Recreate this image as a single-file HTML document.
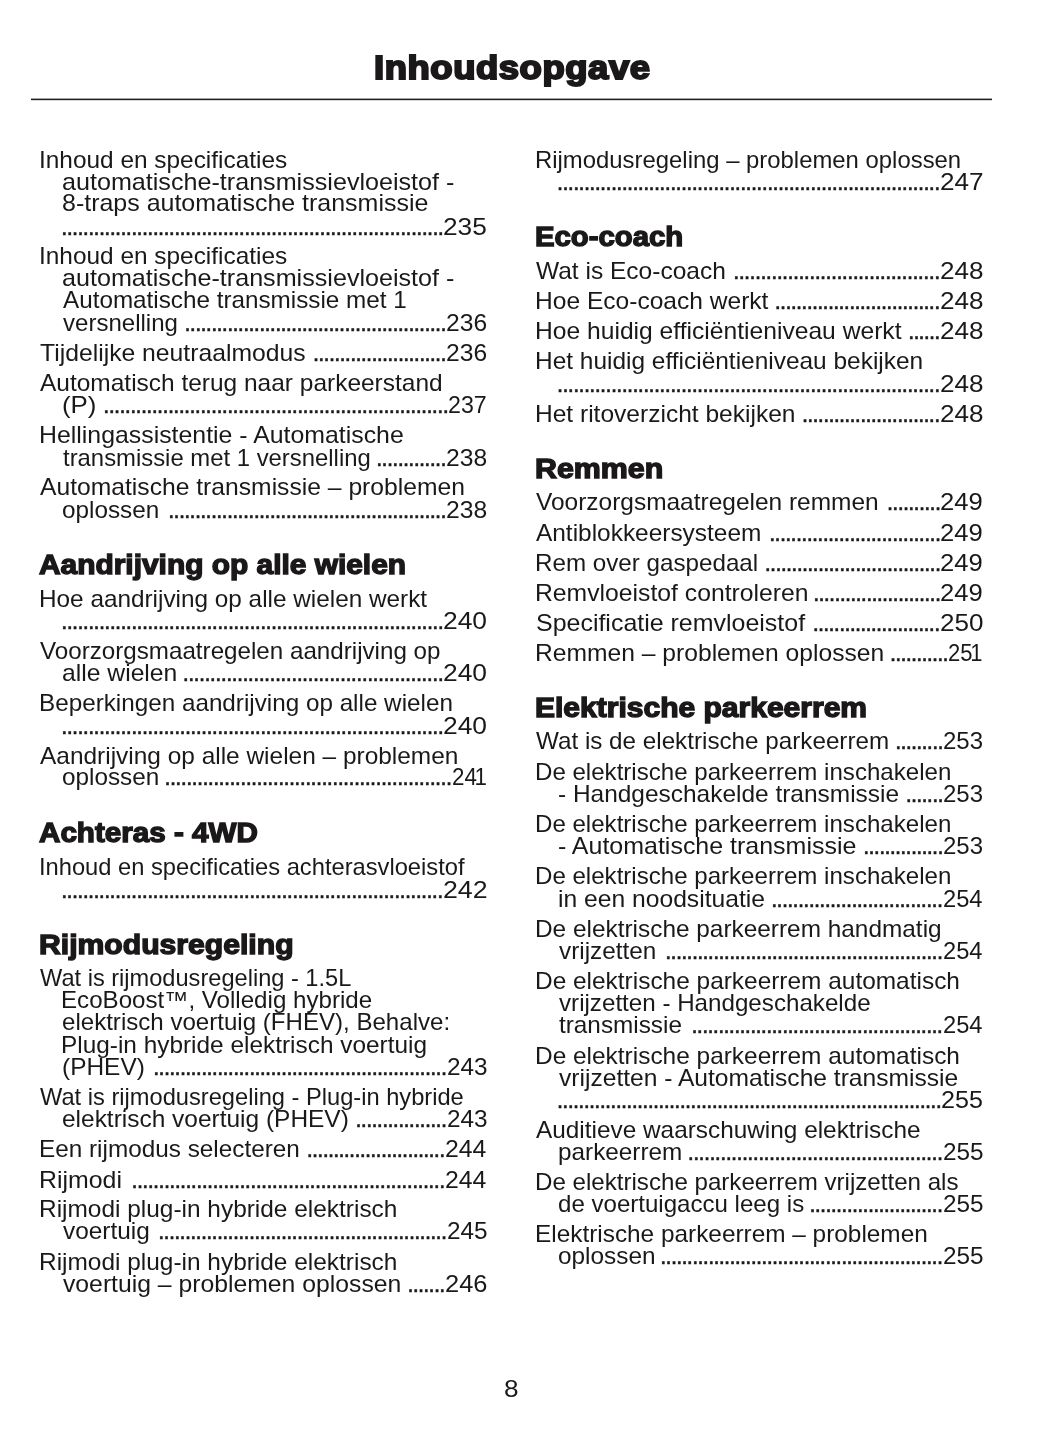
<!DOCTYPE html>
<html lang="nl"><head><meta charset="utf-8"><title>Inhoudsopgave</title>
<style>
html,body{margin:0;padding:0;background:#fff;}
body{width:1055px;height:1448px;position:relative;overflow:hidden;color:#1b1819;font-family:"Liberation Sans",sans-serif;}
.p{position:absolute;white-space:pre;transform-origin:0 0;line-height:1;display:block;margin:0;padding:0;}
.t,.n{font-size:23.6px;font-weight:400;}
.d{font-size:23.6px;font-weight:400;-webkit-text-stroke:0.45px #1b1819;}
.h{font-size:27.6px;font-weight:700;-webkit-text-stroke:1.4px #1b1819;letter-spacing:0px;}
.ttl{font-size:32.4px;font-weight:700;-webkit-text-stroke:2.0px #1b1819;letter-spacing:0.5px;}
.o{margin-left:-2.4px;}
.rule{position:absolute;left:31px;top:98px;width:961px;height:3px;background:linear-gradient(to bottom,#a9a8a8 0,#a9a8a8 1px,#1f1c1d 1px,#1f1c1d 2px,#d9d8d8 2px,#d9d8d8 3px);}
</style></head><body>
<div class="rule"></div>
<h1 class="p ttl" style="left:373.91px;top:52px;transform:scaleX(1.1250)">Inhoudsopgave</h1>
<span class="p t" style="left:38.85px;top:149px;transform:scaleX(1.0342)">Inhoud en specificaties</span>
<span class="p t" style="left:61.85px;top:171px;transform:scaleX(1.0650)">automatische-transmissievloeistof -</span>
<span class="p t" style="left:61.86px;top:192px;transform:scaleX(1.0583)">8-traps automatische transmissie</span>
<span class="p d" style="left:61.00px;top:216px;letter-spacing:-1.175px">.......................................................................</span>
<span class="p n" style="left:443.42px;top:216px;transform:scaleX(1.1135)">235</span>
<span class="p t" style="left:38.85px;top:245px;transform:scaleX(1.0342)">Inhoud en specificaties</span>
<span class="p t" style="left:61.85px;top:267px;transform:scaleX(1.0650)">automatische-transmissievloeistof -</span>
<span class="p t" style="left:62.60px;top:289px;transform:scaleX(1.0279)">Automatische transmissie met 1</span>
<span class="p t" style="left:62.60px;top:312px;transform:scaleX(1.0185)">versnelling</span>
<span class="p d" style="left:184.25px;top:312px;letter-spacing:-1.224px">.................................................</span>
<span class="p n" style="left:446.02px;top:312px;transform:scaleX(1.0446)">236</span>
<span class="p t" style="left:40.30px;top:342px;transform:scaleX(1.0478)">Tijdelijke neutraalmodus</span>
<span class="p d" style="left:312.75px;top:342px;letter-spacing:-1.247px">.........................</span>
<span class="p n" style="left:446.02px;top:342px;transform:scaleX(1.0446)">236</span>
<span class="p t" style="left:40.30px;top:372px;transform:scaleX(1.0371)">Automatisch terug naar parkeerstand</span>
<span class="p t" style="left:61.83px;top:394px;transform:scaleX(1.0966)">(P)</span>
<span class="p d" style="left:103.00px;top:394px;letter-spacing:-1.168px">................................................................</span>
<span class="p n" style="left:448.31px;top:394px;transform:scaleX(0.9838)">237</span>
<span class="p t" style="left:38.83px;top:424px;transform:scaleX(1.0535)">Hellingassistentie - Automatische</span>
<span class="p t" style="left:62.60px;top:447px;transform:scaleX(1.0117)">transmissie met 1 versnelling</span>
<span class="p d" style="left:376.00px;top:447px;letter-spacing:-1.209px">.............</span>
<span class="p n" style="left:446.02px;top:447px;transform:scaleX(1.0446)">238</span>
<span class="p t" style="left:40.30px;top:476px;transform:scaleX(1.0453)">Automatische transmissie – problemen</span>
<span class="p t" style="left:61.88px;top:499px;transform:scaleX(1.0304)">oplossen</span>
<span class="p d" style="left:168.00px;top:499px;letter-spacing:-1.219px">....................................................</span>
<span class="p n" style="left:446.02px;top:499px;transform:scaleX(1.0446)">238</span>
<h2 class="p h" style="left:39.30px;top:551px;transform:scaleX(1.0831)">Aandrijving op alle wielen</h2>
<span class="p t" style="left:38.86px;top:588px;transform:scaleX(1.0310)">Hoe aandrijving op alle wielen werkt</span>
<span class="p d" style="left:61.00px;top:610px;letter-spacing:-1.178px">.......................................................................</span>
<span class="p n" style="left:443.22px;top:610px;transform:scaleX(1.1189)">240</span>
<span class="p t" style="left:40.30px;top:640px;transform:scaleX(1.0246)">Voorzorgsmaatregelen aandrijving op</span>
<span class="p t" style="left:61.87px;top:662px;transform:scaleX(1.0468)">alle wielen</span>
<span class="p d" style="left:182.50px;top:662px;letter-spacing:-1.132px">................................................</span>
<span class="p n" style="left:443.22px;top:662px;transform:scaleX(1.1189)">240</span>
<span class="p t" style="left:38.86px;top:692px;transform:scaleX(1.0278)">Beperkingen aandrijving op alle wielen</span>
<span class="p d" style="left:61.00px;top:715px;letter-spacing:-1.178px">.......................................................................</span>
<span class="p n" style="left:443.22px;top:715px;transform:scaleX(1.1189)">240</span>
<span class="p t" style="left:40.30px;top:745px;transform:scaleX(1.0357)">Aandrijving op alle wielen – problemen</span>
<span class="p t" style="left:61.88px;top:766px;transform:scaleX(1.0304)">oplossen</span>
<span class="p d" style="left:164.25px;top:766px;letter-spacing:-1.144px">.....................................................</span>
<span class="p n" style="left:451.59px;top:766px;transform:scaleX(0.9471)">24<span class="o">1</span></span>
<h2 class="p h" style="left:39.30px;top:819px;transform:scaleX(1.0728)">Achteras - 4WD</h2>
<span class="p t" style="left:38.89px;top:856px;transform:scaleX(1.0044)">Inhoud en specificaties achterasvloeistof</span>
<span class="p d" style="left:61.00px;top:879px;letter-spacing:-1.185px">.......................................................................</span>
<span class="p n" style="left:442.71px;top:879px;transform:scaleX(1.1324)">242</span>
<h2 class="p h" style="left:38.54px;top:931px;transform:scaleX(1.0924)">Rijmodusregeling</h2>
<span class="p t" style="left:40.30px;top:967px;transform:scaleX(1.0003)">Wat is rijmodusregeling - 1.5L</span>
<span class="p t" style="left:61.17px;top:989px;transform:scaleX(1.0226)">EcoBoost™, Volledig hybride</span>
<span class="p t" style="left:61.89px;top:1011px;transform:scaleX(1.0207)">elektrisch voertuig (FHEV), Behalve:</span>
<span class="p t" style="left:61.15px;top:1034px;transform:scaleX(1.0336)">Plug-in hybride elektrisch voertuig</span>
<span class="p t" style="left:61.87px;top:1056px;transform:scaleX(1.0364)">(PHEV)</span>
<span class="p d" style="left:153.00px;top:1056px;letter-spacing:-1.228px">.......................................................</span>
<span class="p n" style="left:446.53px;top:1056px;transform:scaleX(1.0311)">243</span>
<span class="p t" style="left:40.30px;top:1086px;transform:scaleX(1.0026)">Wat is rijmodusregeling - Plug-in hybride</span>
<span class="p t" style="left:61.87px;top:1108px;transform:scaleX(1.0367)">elektrisch voertuig (PHEV)</span>
<span class="p d" style="left:355.25px;top:1108px;letter-spacing:-1.218px">.................</span>
<span class="p n" style="left:446.53px;top:1108px;transform:scaleX(1.0311)">243</span>
<span class="p t" style="left:38.86px;top:1138px;transform:scaleX(1.0304)">Een rijmodus selecteren</span>
<span class="p d" style="left:306.50px;top:1138px;letter-spacing:-1.259px">..........................</span>
<span class="p n" style="left:444.76px;top:1138px;transform:scaleX(1.0500)">244</span>
<span class="p t" style="left:38.82px;top:1169px;transform:scaleX(1.0547)">Rijmodi</span>
<span class="p d" style="left:131.25px;top:1169px;letter-spacing:-1.158px">..........................................................</span>
<span class="p n" style="left:444.76px;top:1169px;transform:scaleX(1.0500)">244</span>
<span class="p t" style="left:38.85px;top:1198px;transform:scaleX(1.0353)">Rijmodi plug-in hybride elektrisch</span>
<span class="p t" style="left:62.60px;top:1220px;transform:scaleX(1.0341)">voertuig</span>
<span class="p d" style="left:158.00px;top:1220px;letter-spacing:-1.222px">......................................................</span>
<span class="p n" style="left:446.53px;top:1220px;transform:scaleX(1.0311)">245</span>
<span class="p t" style="left:38.85px;top:1251px;transform:scaleX(1.0353)">Rijmodi plug-in hybride elektrisch</span>
<span class="p t" style="left:62.60px;top:1273px;transform:scaleX(1.0484)">voertuig – problemen oplossen</span>
<span class="p d" style="left:407.25px;top:1273px;letter-spacing:-1.280px">.......</span>
<span class="p n" style="left:444.75px;top:1273px;transform:scaleX(1.0784)">246</span>
<span class="p t" style="left:534.88px;top:149px;transform:scaleX(1.0122)">Rijmodusregeling – problemen oplossen</span>
<span class="p d" style="left:556.75px;top:171px;letter-spacing:-1.167px">.......................................................................</span>
<span class="p n" style="left:939.73px;top:171px;transform:scaleX(1.1054)">247</span>
<h2 class="p h" style="left:534.56px;top:223px;transform:scaleX(1.0623)">Eco-coach</h2>
<span class="p t" style="left:536.30px;top:260px;transform:scaleX(1.0392)">Wat is Eco-coach</span>
<span class="p d" style="left:733.00px;top:260px;letter-spacing:-1.126px">......................................</span>
<span class="p n" style="left:939.73px;top:260px;transform:scaleX(1.1054)">248</span>
<span class="p t" style="left:534.84px;top:290px;transform:scaleX(1.0410)">Hoe Eco-coach werkt</span>
<span class="p d" style="left:774.50px;top:290px;letter-spacing:-1.242px">...............................</span>
<span class="p n" style="left:939.73px;top:290px;transform:scaleX(1.1054)">248</span>
<span class="p t" style="left:534.84px;top:320px;transform:scaleX(1.0440)">Hoe huidig efficiëntieniveau werkt</span>
<span class="p d" style="left:908.00px;top:320px;letter-spacing:-1.375px">......</span>
<span class="p n" style="left:939.73px;top:320px;transform:scaleX(1.1054)">248</span>
<span class="p t" style="left:534.85px;top:350px;transform:scaleX(1.0360)">Het huidig efficiëntieniveau bekijken</span>
<span class="p d" style="left:556.75px;top:373px;letter-spacing:-1.167px">.......................................................................</span>
<span class="p n" style="left:939.73px;top:373px;transform:scaleX(1.1054)">248</span>
<span class="p t" style="left:534.84px;top:403px;transform:scaleX(1.0399)">Het ritoverzicht bekijken</span>
<span class="p d" style="left:801.75px;top:403px;letter-spacing:-1.269px">..........................</span>
<span class="p n" style="left:939.73px;top:403px;transform:scaleX(1.1054)">248</span>
<h2 class="p h" style="left:534.53px;top:455px;transform:scaleX(1.1009)">Remmen</h2>
<span class="p t" style="left:536.30px;top:491px;transform:scaleX(1.0368)">Voorzorgsmaatregelen remmen</span>
<span class="p d" style="left:886.75px;top:491px;letter-spacing:-1.233px">..........</span>
<span class="p n" style="left:940.49px;top:491px;transform:scaleX(1.0851)">249</span>
<span class="p t" style="left:536.30px;top:522px;transform:scaleX(1.0352)">Antiblokkeersysteem</span>
<span class="p d" style="left:769.00px;top:522px;letter-spacing:-1.212px">................................</span>
<span class="p n" style="left:940.49px;top:522px;transform:scaleX(1.0851)">249</span>
<span class="p t" style="left:534.87px;top:552px;transform:scaleX(1.0250)">Rem over gaspedaal</span>
<span class="p d" style="left:764.50px;top:552px;letter-spacing:-1.238px">.................................</span>
<span class="p n" style="left:940.49px;top:552px;transform:scaleX(1.0851)">249</span>
<span class="p t" style="left:534.83px;top:582px;transform:scaleX(1.0481)">Remvloeistof controleren</span>
<span class="p d" style="left:813.00px;top:582px;letter-spacing:-1.266px">........................</span>
<span class="p n" style="left:940.49px;top:582px;transform:scaleX(1.0851)">249</span>
<span class="p t" style="left:535.56px;top:612px;transform:scaleX(1.0577)">Specificatie remvloeistof</span>
<span class="p d" style="left:812.50px;top:612px;letter-spacing:-1.277px">........................</span>
<span class="p n" style="left:939.73px;top:612px;transform:scaleX(1.1054)">250</span>
<span class="p t" style="left:534.84px;top:642px;transform:scaleX(1.0441)">Remmen – problemen oplossen</span>
<span class="p d" style="left:889.75px;top:642px;letter-spacing:-1.315px">...........</span>
<span class="p n" style="left:948.10px;top:642px;transform:scaleX(0.9329)">25<span class="o">1</span></span>
<h2 class="p h" style="left:534.54px;top:694px;transform:scaleX(1.0878)">Elektrische parkeerrem</h2>
<span class="p t" style="left:536.30px;top:730px;transform:scaleX(1.0266)">Wat is de elektrische parkeerrem</span>
<span class="p d" style="left:895.00px;top:730px;letter-spacing:-1.287px">.........</span>
<span class="p n" style="left:943.04px;top:730px;transform:scaleX(1.0176)">253</span>
<span class="p t" style="left:534.87px;top:761px;transform:scaleX(1.0207)">De elektrische parkeerrem inschakelen</span>
<span class="p t" style="left:557.87px;top:783px;transform:scaleX(1.0361)">- Handgeschakelde transmissie</span>
<span class="p d" style="left:905.50px;top:783px;letter-spacing:-1.280px">.......</span>
<span class="p n" style="left:943.04px;top:783px;transform:scaleX(1.0176)">253</span>
<span class="p t" style="left:534.87px;top:813px;transform:scaleX(1.0207)">De elektrische parkeerrem inschakelen</span>
<span class="p t" style="left:557.86px;top:835px;transform:scaleX(1.0582)">- Automatische transmissie</span>
<span class="p d" style="left:863.00px;top:835px;letter-spacing:-1.259px">...............</span>
<span class="p n" style="left:943.04px;top:835px;transform:scaleX(1.0176)">253</span>
<span class="p t" style="left:534.87px;top:865px;transform:scaleX(1.0207)">De elektrische parkeerrem inschakelen</span>
<span class="p t" style="left:557.87px;top:888px;transform:scaleX(1.0449)">in een noodsituatie</span>
<span class="p d" style="left:771.00px;top:888px;letter-spacing:-1.212px">................................</span>
<span class="p n" style="left:942.55px;top:888px;transform:scaleX(1.0039)">254</span>
<span class="p t" style="left:534.85px;top:918px;transform:scaleX(1.0336)">De elektrische parkeerrem handmatig</span>
<span class="p t" style="left:558.60px;top:940px;transform:scaleX(1.0301)">vrijzetten</span>
<span class="p d" style="left:665.00px;top:940px;letter-spacing:-1.229px">....................................................</span>
<span class="p n" style="left:942.55px;top:940px;transform:scaleX(1.0039)">254</span>
<span class="p t" style="left:534.85px;top:970px;transform:scaleX(1.0353)">De elektrische parkeerrem automatisch</span>
<span class="p t" style="left:558.60px;top:992px;transform:scaleX(1.0241)">vrijzetten - Handgeschakelde</span>
<span class="p t" style="left:558.60px;top:1014px;transform:scaleX(1.0301)">transmissie</span>
<span class="p d" style="left:691.25px;top:1014px;letter-spacing:-1.221px">...............................................</span>
<span class="p n" style="left:942.55px;top:1014px;transform:scaleX(1.0039)">254</span>
<span class="p t" style="left:534.85px;top:1045px;transform:scaleX(1.0353)">De elektrische parkeerrem automatisch</span>
<span class="p t" style="left:558.60px;top:1067px;transform:scaleX(1.0427)">vrijzetten - Automatische transmissie</span>
<span class="p d" style="left:556.75px;top:1089px;letter-spacing:-1.222px">........................................................................</span>
<span class="p n" style="left:941.25px;top:1089px;transform:scaleX(1.0649)">255</span>
<span class="p t" style="left:536.30px;top:1119px;transform:scaleX(1.0326)">Auditieve waarschuwing elektrische</span>
<span class="p t" style="left:557.88px;top:1141px;transform:scaleX(1.0301)">parkeerrem</span>
<span class="p d" style="left:687.50px;top:1141px;letter-spacing:-1.139px">...............................................</span>
<span class="p n" style="left:942.53px;top:1141px;transform:scaleX(1.0311)">255</span>
<span class="p t" style="left:534.87px;top:1171px;transform:scaleX(1.0221)">De elektrische parkeerrem vrijzetten als</span>
<span class="p t" style="left:557.89px;top:1193px;transform:scaleX(1.0201)">de voertuigaccu leeg is</span>
<span class="p d" style="left:809.25px;top:1193px;letter-spacing:-1.247px">.........................</span>
<span class="p n" style="left:942.53px;top:1193px;transform:scaleX(1.0311)">255</span>
<span class="p t" style="left:534.85px;top:1223px;transform:scaleX(1.0328)">Elektrische parkeerrem – problemen</span>
<span class="p t" style="left:557.88px;top:1245px;transform:scaleX(1.0332)">oplossen</span>
<span class="p d" style="left:660.00px;top:1245px;letter-spacing:-1.235px">.....................................................</span>
<span class="p n" style="left:942.53px;top:1245px;transform:scaleX(1.0311)">255</span>
<span class="p n" style="left:504.22px;top:1378px;transform:scaleX(1.1091)">8</span>
</body></html>
